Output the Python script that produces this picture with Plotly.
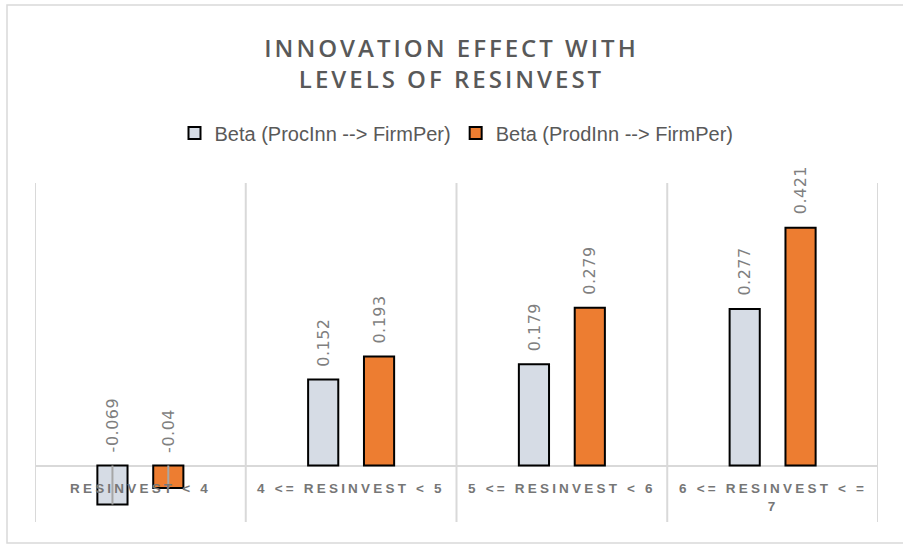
import plotly.graph_objects as go

categories = ["RESINVEST < 4", "4 <= RESINVEST < 5", "5 <= RESINVEST < 6", "6 <= RESINVEST < =<br>7"]
series_names = ["Beta (ProcInn --> FirmPer)", "Beta (ProdInn --> FirmPer)"]
proc_values = [-0.069, 0.152, 0.179, 0.277]
prod_values = [-0.04, 0.193, 0.279, 0.421]

colors = ["#D6DCE5", "#ED7D31"]
grid = "#D9D9D9"
text_gray = "#595959"
label_gray = "#7F7F7F"

W, H = 903, 547
L, R, T, B = 35, 25, 183, 25
pw, ph = W - L - R, H - T - B

xs = list(range(len(categories)))
fig = go.Figure()
for name, vals, col in zip(series_names, [proc_values, prod_values], colors):
    fig.add_trace(go.Bar(
        x=xs, y=vals, name=name,
        marker=dict(color=col, line=dict(color="#000000", width=2)),
        error_y=dict(type="data", symmetric=False,
                     array=[max(-v, 0) for v in vals], arrayminus=[0] * len(vals),
                     width=0, thickness=2, color="#A6A6A6"),
        hoverinfo="skip",
    ))

annotations = []
# data labels
for vals, shift in [(proc_values, -28), (prod_values, 28)]:
    for i, v in enumerate(vals):
        annotations.append(dict(
            x=i, y=max(v, 0), xref="x", yref="y", xshift=shift, yshift=11,
            text=f'<span style="letter-spacing:0.5px">{v:g}</span>', textangle=-90, showarrow=False,
            xanchor="center", yanchor="bottom",
            font=dict(family="DejaVu Sans", size=16, color=label_gray),
        ))
# category labels
for i, c in enumerate(categories):
    annotations.append(dict(
        x=i, y=0, xref="x", yref="y", yshift=-13,
        text=f'<span style="letter-spacing:3.2px">{c}</span>',
        showarrow=False, xanchor="center", yanchor="top",
        font=dict(family="Liberation Sans", size=13.5, color="#767676", weight="bold"),
    ))

shapes = []
for xv in [-0.5, 0.5, 1.5, 2.5, 3.5]:
    shapes.append(dict(type="line", xref="x", yref="paper", x0=xv, x1=xv, y0=0, y1=1,
                       line=dict(color=grid, width=2), layer="below"))
# chart border
shapes.append(dict(type="rect", xref="paper", yref="paper",
                   x0=(7 - L) / pw, x1=(910 - L) / pw,
                   y0=(H - B - 543) / ph, y1=(H - B - 5) / ph,
                   line=dict(color=grid, width=1.5), layer="below"))

fig.update_layout(
    width=W, height=H,
    margin=dict(l=L, r=R, t=T, b=B),
    paper_bgcolor="white", plot_bgcolor="white",
    barmode="group", bargap=0.47, bargroupgap=0.46,
    title=dict(
        text='<span style="letter-spacing:3px">INNOVATION EFFECT WITH<br>LEVELS OF RESINVEST</span>',
        x=0.5, xanchor="center", y=1 - 57 / H, yanchor="middle",
        font=dict(family="Open Sans", size=24, color=text_gray, weight=600),
    ),
    legend=dict(orientation="h", x=0.5, xanchor="center",
                y=(H - B - 133) / ph, yanchor="middle",
                font=dict(family="Liberation Sans", size=20, color=text_gray),
                itemclick=False),
    xaxis=dict(range=[-0.5, 3.5], showgrid=False, zeroline=False,
               showticklabels=False, showline=False, fixedrange=True),
    yaxis=dict(range=[-0.1, 0.5], showgrid=False, zeroline=True,
               zerolinecolor=grid, zerolinewidth=2,
               showticklabels=False, showline=False, fixedrange=True),
    annotations=annotations,
    shapes=shapes,
    showlegend=True,
)

fig.write_html("out.html", config={"displayModeBar": False})
